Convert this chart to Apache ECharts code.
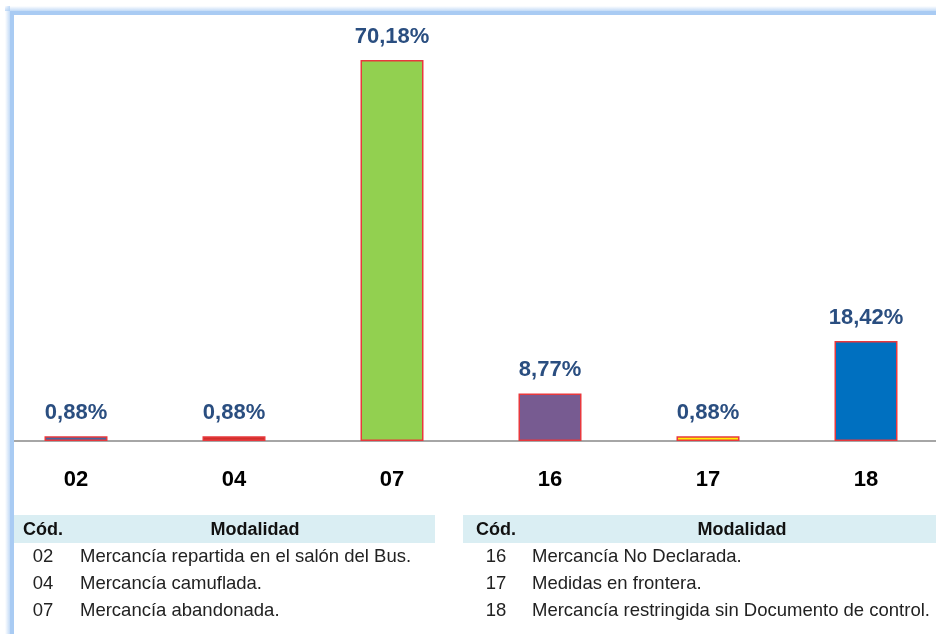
<!DOCTYPE html>
<html>
<head>
<meta charset="utf-8">
<style>
  html, body { margin: 0; padding: 0; background: #fff; overflow: hidden; width: 936px; height: 634px; }
  #main { position: absolute; left: -3px; top: 0; width: 948px; height: 634px; }
</style>
<script src="https://cdn.jsdelivr.net/npm/echarts@6/dist/echarts.min.js"></script>
</head>
<body>
<div id="main"></div>
<script>
// datos del gráfico
var codigos = ['02', '04', '07', '16', '17', '18'];
var porcentajes = [0.88, 0.88, 70.18, 8.77, 0.88, 18.42];
var colores = ['#46679F', '#D0302C', '#92D050', '#775B91', '#FFF200', '#0070C0'];

// tabla de modalidades
var codIzq = ['02', '04', '07'];
var modIzq = ['Mercancía repartida en el salón del Bus.', 'Mercancía camuflada.', 'Mercancía abandonada.'];
var codDer = ['16', '17', '18'];
var modDer = ['Mercancía No Declarada.', 'Medidas en frontera.', 'Mercancía restringida sin Documento de control.'];

var fuente = '"Liberation Sans", Arial, sans-serif';
var dx = 3; // el div empieza 3px a la izquierda de la página

var myChart = echarts.init(document.getElementById('main'));

function tabla(x0, x1, codX, modX, textX, cods, mods) {
    var els = [];
    els.push({
        type: 'rect',
        shape: { x: x0 + dx, y: 515, width: x1 - x0, height: 28 },
        style: { fill: '#DAEEF3' }
    });
    els.push({
        type: 'text', x: codX + dx, y: 530,
        style: { text: 'Cód.', font: 'bold 18px ' + fuente, fill: '#111', align: 'center', verticalAlign: 'middle' }
    });
    els.push({
        type: 'text', x: modX + dx, y: 530,
        style: { text: 'Modalidad', font: 'bold 18px ' + fuente, fill: '#111', align: 'center', verticalAlign: 'middle' }
    });
    for (var i = 0; i < cods.length; i++) {
        var y = 557 + i * 27;
        els.push({
            type: 'text', x: codX + dx, y: y,
            style: { text: cods[i], font: '18.5px ' + fuente, fill: '#222', align: 'center', verticalAlign: 'middle' }
        });
        els.push({
            type: 'text', x: textX + dx, y: y,
            style: { text: mods[i], font: '18.5px ' + fuente, fill: '#222', align: 'left', verticalAlign: 'middle' }
        });
    }
    return els;
}

var graficos = [
    // fondo blanco a la izquierda del marco
    {
        type: 'rect', z: 99,
        shape: { x: 0, y: 0, width: 10 + dx, height: 700 },
        style: { fill: '#fff' }
    },
    // marco azul claro (con borde difuso hacia fuera)
    {
        type: 'rect', z: 100,
        shape: { x: 5 + dx, y: 6, width: 1000, height: 5 },
        style: {
            fill: new echarts.graphic.LinearGradient(0, 0, 0, 1, [
                { offset: 0, color: 'rgba(169,203,243,0)' },
                { offset: 1, color: 'rgba(169,203,243,0.7)' }
            ])
        }
    },
    {
        type: 'rect', z: 100,
        shape: { x: 5 + dx, y: 6, width: 5, height: 700 },
        style: {
            fill: new echarts.graphic.LinearGradient(0, 0, 1, 0, [
                { offset: 0, color: 'rgba(169,203,243,0)' },
                { offset: 1, color: 'rgba(169,203,243,0.7)' }
            ])
        }
    },
    {
        type: 'rect', z: 101,
        shape: { x: 10 + dx, y: 11, width: 1000, height: 4 },
        style: { fill: '#A9CBF3' }
    },
    {
        type: 'rect', z: 101,
        shape: { x: 10 + dx, y: 11, width: 4, height: 700 },
        style: { fill: '#A9CBF3' }
    }
].concat(tabla(14, 435, 43, 255, 80, codIzq, modIzq))
 .concat(tabla(463, 936, 496, 742, 532, codDer, modDer));

option = {
    backgroundColor: '#fff',
    animation: false,
    grid: { left: 0, right: 0, top: 60, bottom: 193 },
    xAxis: {
        type: 'category',
        data: codigos,
        axisLine: { lineStyle: { color: '#A6A6A6', width: 2 } },
        axisTick: { show: false },
        axisLabel: {
            margin: 28,
            color: '#000',
            fontWeight: 'bold',
            fontSize: 22,
            fontFamily: fuente
        }
    },
    yAxis: {
        type: 'value',
        min: 0,
        max: 70.18,
        show: false,
        splitLine: { show: false }
    },
    series: [{
        type: 'bar',
        barWidth: 63,
        data: porcentajes.map(function (v, i) {
            return { value: v, itemStyle: { color: colores[i] } };
        }),
        itemStyle: { borderColor: '#E8383D', borderWidth: 1.5 },
        label: {
            show: true,
            position: 'top',
            distance: 12,
            color: '#2A4E80',
            fontWeight: 'bold',
            fontSize: 22,
            fontFamily: fuente,
            formatter: function (p) {
                return p.value.toFixed(2).replace('.', ',') + '%';
            }
        }
    }],
    graphic: graficos
};

myChart.setOption(option);
</script>
</body>
</html>
